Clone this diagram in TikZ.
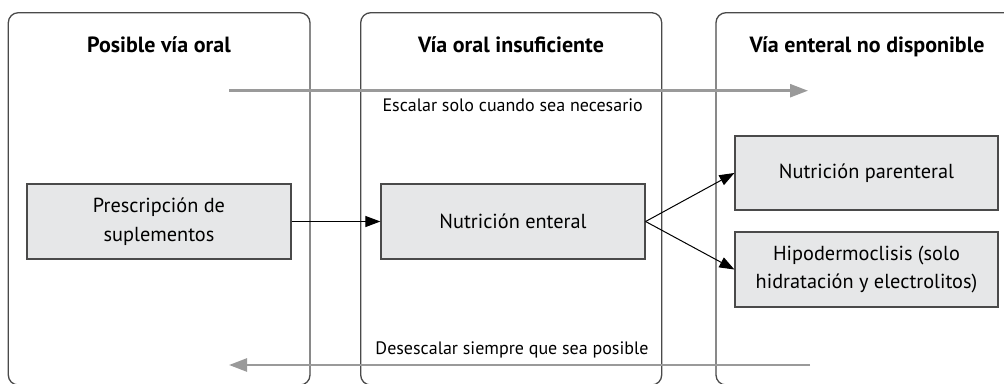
\documentclass[tikz,border=0pt]{standalone}
\usepackage{fontspec}
\setmainfont{PT Sans}
\usepackage{xcolor}
\usepackage{tikz}
\usetikzlibrary{arrows.meta,positioning,calc}

\definecolor{boxgray}{HTML}{E6E7E8}
\definecolor{linegray}{HTML}{4A4A4A}
\definecolor{arrowgray}{HTML}{9A9A9A}

\tikzset{
  panel/.style={draw=linegray, line width=1.3pt, rounded corners=10pt},
  paneltitle/.style={anchor=base, font=\fontsize{22}{24}\selectfont\bfseries},
  stepbox/.style={draw=linegray, fill=boxgray, line width=1.2pt, minimum width=264pt, minimum height=75pt, inner sep=0pt, align=center, font=\fontsize{20.3}{28.5}\selectfont},
  flowlabel/.style={anchor=base, font=\fontsize{18}{21}\selectfont},
  flow/.style={-{Triangle[length=18pt,width=13pt]}, arrowgray, line width=2.6pt},
  link/.style={-{Triangle[length=15pt,width=11pt]}, black, line width=1pt}
}

\begin{document}
\begin{tikzpicture}[x=1pt, y=-1pt]
\useasboundingbox (0,0) rectangle (1004,383);

% Three columns, open at the bottom
\begin{scope}
\clip (0,0) rectangle (1004,383);
\draw[panel] (8.3,12.7) rectangle (310,385);
\draw[panel] (360.7,12.7) rectangle (661.7,385);
\draw[panel] (716,12.7) rectangle (1018,385);
\end{scope}

% Column titles
\node[paneltitle] (oral) at (159,52.7) {Posible vía oral};
\node[paneltitle] (insuf) at (511,52.7) {Vía oral insuficiente};
\node[paneltitle] (nodisp) at (867,52.7) {Vía enteral no disponible};

% Escalate / de-escalate
\coordinate (escfrom) at (229,90.7);
\coordinate (escto) at (808,90.7);
\draw[flow] (escfrom) -- (escto);
\node[flowlabel] (esc) at (512.7,111.7) {Escalar solo cuando sea necesario};

\coordinate (desfrom) at (810,365);
\coordinate (desto) at (229,365);
\draw[flow] (desfrom) -- (desto);
\node[flowlabel] (des) at (512,354) {Desescalar siempre que sea posible};

% Steps
\node[stepbox] (supl) at (159,221.5) {Prescripción de\\suplementos};
\node[stepbox] (enteral) at (513,221.5) {Nutrición enteral};
\node[stepbox, minimum width=263pt, minimum height=74pt] (parent) at (866.5,173) {Nutrición parenteral};
\node[stepbox, minimum width=263pt] (hipo) at (866.5,269.5) {Hipodermoclisis (solo\\hidratación y electrolitos)};

\draw[link] (supl.east) -- (enteral.west);
\draw[link] (enteral.east) -- (parent.west);
\draw[link] (enteral.east) -- (hipo.west);

\end{tikzpicture}
\end{document}
